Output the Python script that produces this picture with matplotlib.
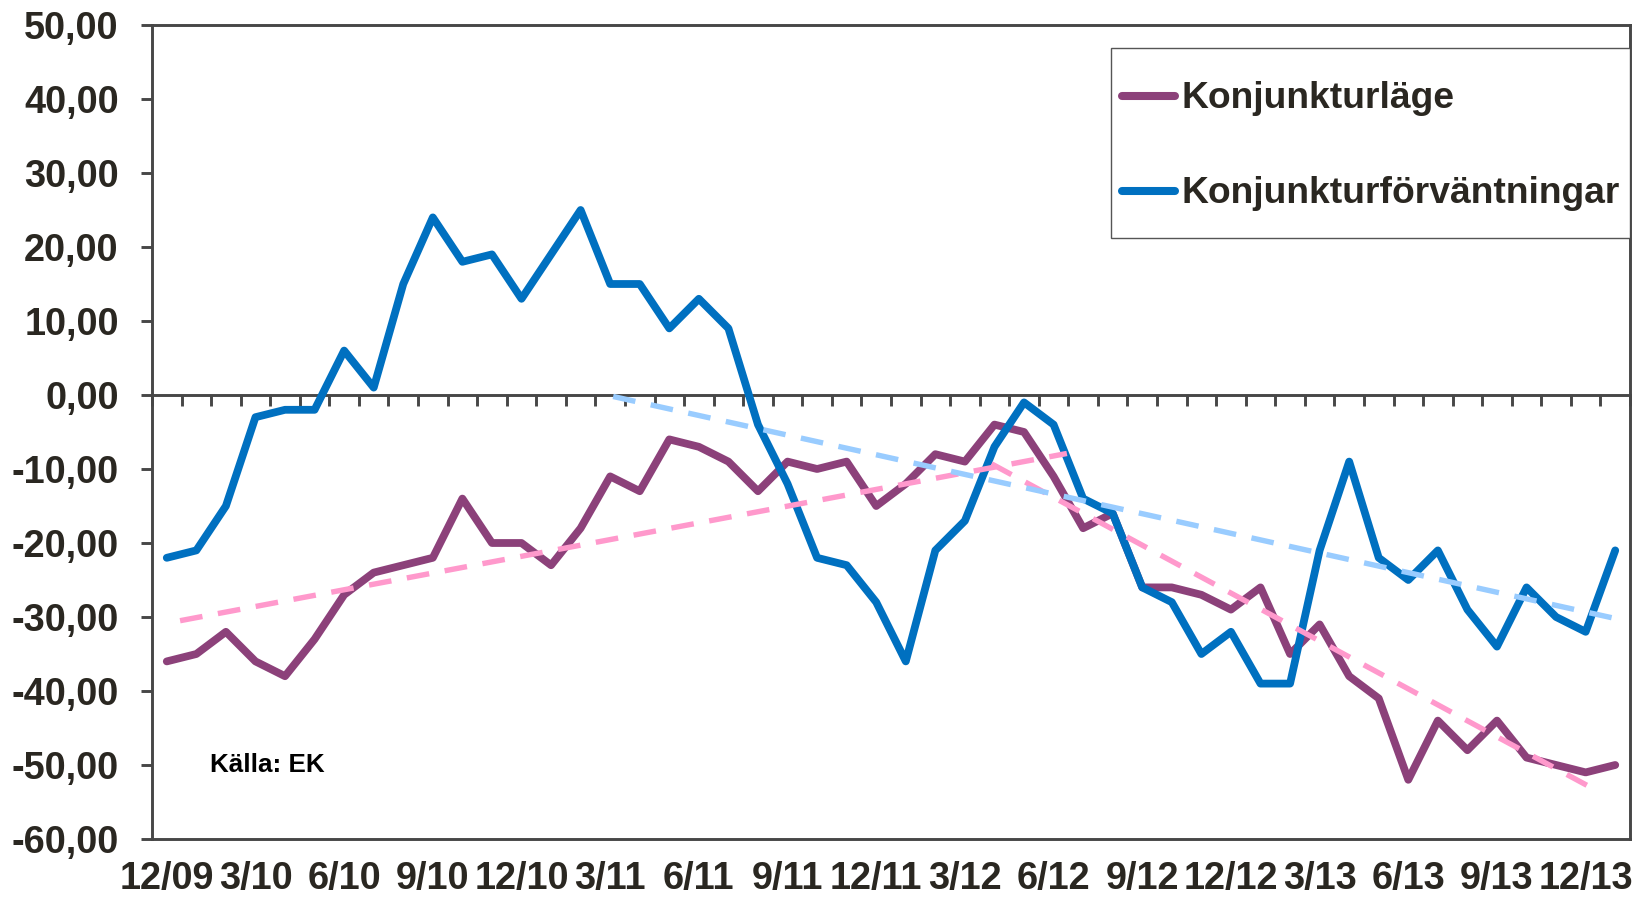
import matplotlib
matplotlib.use("Agg")
import matplotlib.pyplot as plt
from matplotlib.lines import Line2D
from matplotlib.patches import Rectangle
from matplotlib.ticker import FuncFormatter
import numpy as np

# ---------------- data ----------------
tick_labels = ["12/09", "3/10", "6/10", "9/10", "12/10", "3/11", "6/11", "9/11",
               "12/11", "3/12", "6/12", "9/12", "12/12", "3/13", "6/13", "9/13", "12/13"]

konjunkturlage = [-36, -35, -32, -36, -38, -33, -27, -24, -23, -22,
                  -14, -20, -20, -23, -18, -11, -13, -6, -7, -9,
                  -13, -9, -10, -9, -15, -12, -8, -9, -4, -5,
                  -11, -18, -16, -26, -26, -27, -29, -26, -35, -31,
                  -38, -41, -52, -44, -48, -44, -49, -50, -51, -50]

konjunkturforvantningar = [-22, -21, -15, -3, -2, -2, 6, 1, 15, 24,
                           18, 19, 13, 19, 25, 15, 15, 9, 13, 9,
                           -4, -12, -22, -23, -28, -36, -21, -17, -7, -1,
                           -4, -14, -16, -26, -28, -35, -32, -39, -39, -21,
                           -9, -22, -25, -21, -29, -34, -26, -30, -32, -21]

# trend segments (category position, value)
trend_lage_1_x = [0.45, 30.45]
trend_lage_1_y = [-30.5, -7.9]
trend_lage_2_x = [27.9, 48.3]
trend_lage_2_y = [-9.3, -53.3]
trend_forv_x = [15.1, 49.0]
trend_forv_y = [-0.2, -30.2]

series_names = ["Konjunkturläge", "Konjunkturförväntningar"]
source_text = "Källa: EK"

# ---------------- style ----------------
W, H = 1640, 899
TEXT = "#2a2721"
AXC = "#474747"
PURPLE = "#8C417A"
BLUE = "#0070C0"
PINK = "#FF99CC"
LBLUE = "#99CCFF"

plt.rcParams["font.family"] = ["Liberation Sans", "DejaVu Sans"]
plt.rcParams["font.weight"] = "bold"

fig = plt.figure(figsize=(W / 100, H / 100), dpi=100)
L, R, T, B = 152, 1630, 25, 839
ax = fig.add_axes([L / W, (H - B) / H, (R - L) / W, (B - T) / H])

n = len(konjunkturlage)
x = np.arange(n)
ax.set_xlim(-0.5, n - 0.5)
ax.set_ylim(-60, 50)

ax.plot(x, konjunkturlage, color=PURPLE, lw=5.6, solid_joinstyle="round",
        solid_capstyle="round", zorder=3)
ax.plot(x, konjunkturforvantningar, color=BLUE, lw=5.6, solid_joinstyle="round",
        solid_capstyle="round", zorder=4)

for tx, ty, c in [(trend_lage_1_x, trend_lage_1_y, PINK),
                  (trend_lage_2_x, trend_lage_2_y, PINK),
                  (trend_forv_x, trend_forv_y, LBLUE)]:
    ax.plot(tx, ty, color=c, lw=3.9, dashes=(4.2, 2.9), dash_capstyle="butt", zorder=5)

# spines
for s in ax.spines.values():
    s.set_color(AXC)
    s.set_linewidth(2.1)
ax.spines["bottom"].set_position(("data", 0))

# x ticks on zero line (category boundaries)
ax.set_xticks(np.arange(-0.5, n, 1.0))
ax.tick_params(axis="x", direction="out", length=8, width=2.1, color=AXC,
               labelbottom=False)

# y ticks
ax.set_yticks(np.arange(-60, 51, 10))
ax.yaxis.set_major_formatter(FuncFormatter(lambda v, p: f"{v:.2f}".replace(".", ",")))
ax.tick_params(axis="y", direction="out", length=8, width=2.1, color=AXC,
               pad=16, labelsize=27.3, labelcolor=TEXT)

# category labels at bottom
sec = ax.secondary_xaxis("bottom")
sec.set_xticks(np.arange(0, n, 3))
sec.set_xticklabels(tick_labels)
sec.tick_params(axis="x", length=0, pad=16, labelsize=27.3, labelcolor=TEXT)
sec.spines["bottom"].set_color(AXC)
sec.spines["bottom"].set_linewidth(2.1)

# legend (drawn in axes fraction)
def fx(px):
    return (px - L) / (R - L)

def fy(py):
    return (B - py) / (B - T)

ax.add_patch(Rectangle((fx(1111), fy(237.5)), fx(1630) - fx(1111), fy(48.3) - fy(237.5),
                       transform=ax.transAxes, facecolor="white", edgecolor="#555555",
                       lw=1.0, zorder=6))
for name, col, ly, by in [(series_names[0], PURPLE, 95.7, 108.5),
                          (series_names[1], BLUE, 190.7, 203.0)]:
    ax.add_line(Line2D([fx(1122), fx(1175)], [fy(ly), fy(ly)], transform=ax.transAxes,
                       color=col, lw=5.8, solid_capstyle="round", zorder=7))
    ax.text(fx(1182), fy(by), name, transform=ax.transAxes, fontsize=26.8,
            color=TEXT, fontweight="bold", va="baseline", ha="left", zorder=7)

ax.text(fx(210), fy(772), source_text, transform=ax.transAxes, fontsize=18.7,
        color="black", fontweight="bold", va="baseline", ha="left", zorder=7)

fig.savefig("out.png", dpi=100)
